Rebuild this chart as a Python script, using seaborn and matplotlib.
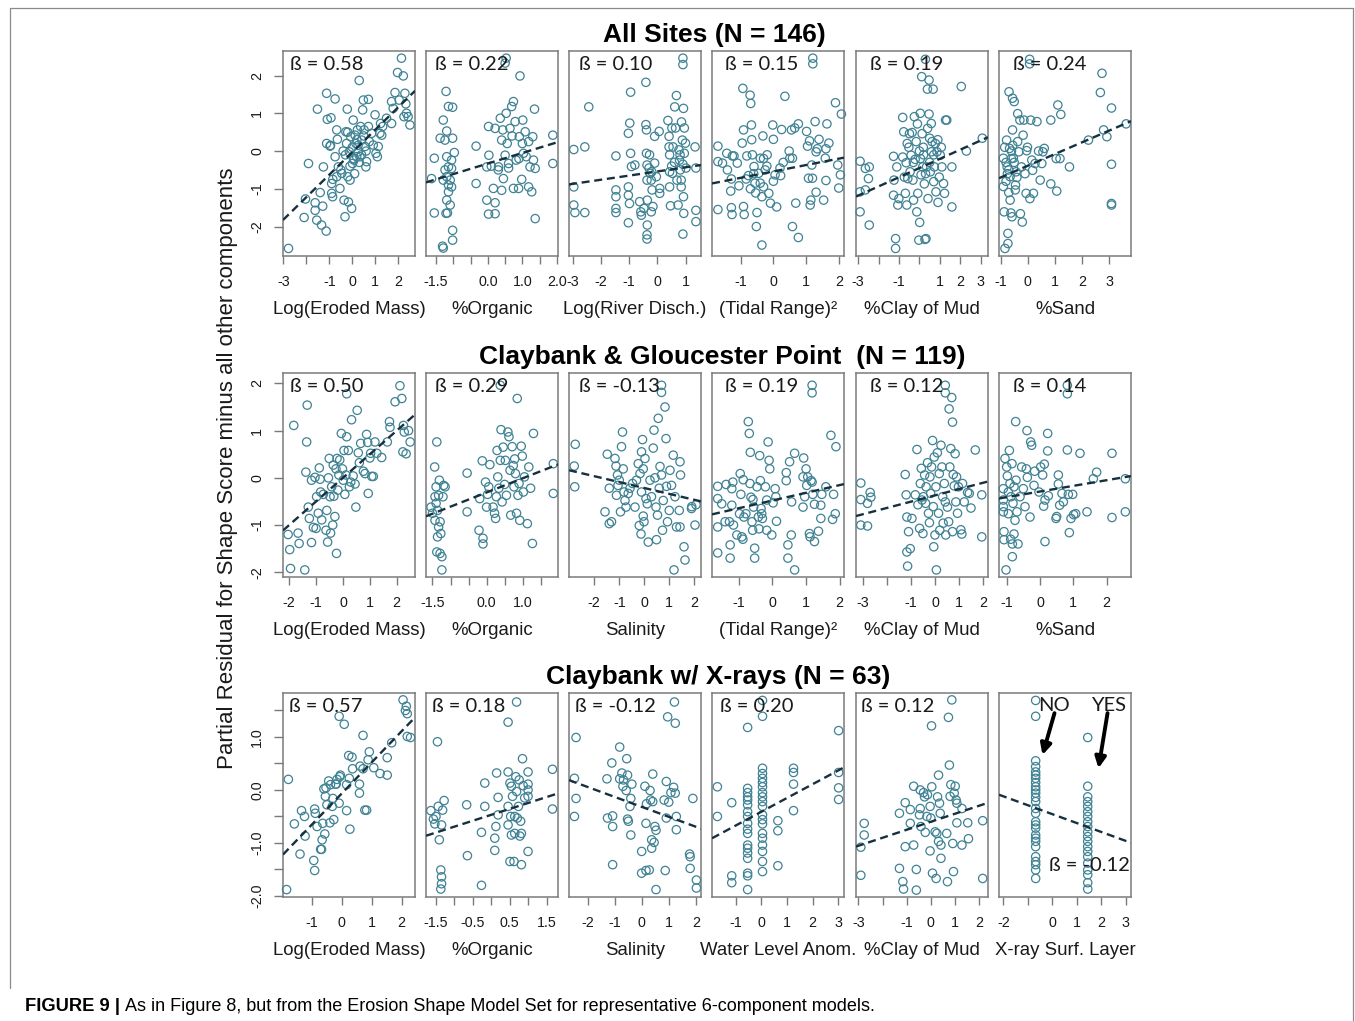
import matplotlib
matplotlib.use("Agg")
import matplotlib.pyplot as plt
from matplotlib.lines import Line2D
import seaborn as sns

sns.set_theme(style="white")
plt.rcParams['font.family'] = ['Liberation Sans', 'DejaVu Sans']

# ---------------- DATA ----------------
# Row 1: All Sites (N = 146)
all_eroded = [(-2.78,-2.58),(-2.10,-1.76),(-2.04,-1.27),(-1.91,-0.33),(-1.62,-1.37),(-1.62,-1.57),(-1.55,-1.83),(-1.52,1.11),(-1.34,-1.96),(-1.29,-1.46),(-1.26,-0.42),(-1.14,-2.12),(-1.12,1.53),(-1.09,0.84),(-0.93,0.88),(-1.12,0.20),(-0.97,0.13),(-0.90,-1.12),(-0.90,-0.86),(-0.86,-1.21),(-0.75,1.38),(-0.75,-0.15),(-0.68,0.56),(-0.68,-0.68),(-0.65,0.31),(-0.61,-0.42),(-0.54,-0.99),(-0.46,-0.59),(-0.36,-1.30),(-0.32,-1.74),(-0.28,0.51),(-0.22,1.11),(-0.20,-0.68),(-0.17,-1.35),(-0.13,-0.02),(-0.10,-0.77),(-0.07,0.38),(-0.03,-1.52),(0.01,-0.33),(0.04,0.82),(0.07,-0.24),(0.12,0.42),(0.16,0.20),(0.19,-0.15),(0.22,0.56),(0.26,-0.02),(0.30,1.87),(0.33,-0.15),(0.36,0.65),(0.41,0.29),(0.45,1.09),(0.48,1.35),(0.51,0.56),(0.55,0.12),(0.59,-0.42),(0.62,-0.28),(0.70,1.37),(0.70,0.65),(0.74,0.25),(0.84,0.47),(0.91,0.16),(0.99,0.96),(1.03,-0.06),(1.09,-0.15),(1.13,0.12),(1.20,0.47),(1.23,0.73),(1.28,0.42),(1.32,0.65),(1.49,0.87),(1.71,0.73),(1.71,1.31),(1.78,1.13),(1.86,1.55),(1.97,2.08),(2.04,1.35),(2.14,2.46),(2.22,1.99),(2.25,0.91),(2.29,1.53),(2.33,1.25),(2.36,1.00),(2.43,0.91),(2.51,0.69),(-0.25,0.20),(-0.30,-0.10),(0.00,0.10),(0.20,0.30),(-0.10,-0.40),(0.30,-0.30),(-0.50,-0.50),(0.10,-0.60),(0.50,0.40),(0.60,0.00),(-0.20,0.50),(0.40,-0.10),(0.25,0.15),(-0.40,0.00),(0.05,-0.20),(-0.85,-0.75),(-1.40,-1.10),(-0.95,0.15)]
all_organic = [(-1.55,-0.19),(-1.63,-0.73),(-1.55,-1.64),(-1.38,0.34),(-1.29,0.82),(-1.21,1.58),(-1.14,1.18),(-1.02,1.16),(-1.19,0.53),(-1.24,0.29),(-1.02,0.34),(-0.97,-0.04),(-1.19,-0.15),(-1.14,-0.42),(-1.24,-0.50),(-1.05,-0.46),(-1.19,-0.68),(-1.09,-0.77),(-1.29,-0.77),(-1.05,-0.95),(-1.14,-1.08),(-1.19,-1.30),(-1.09,-1.43),(-1.17,-1.64),(-1.21,-1.65),(-1.02,-2.10),(-1.02,-2.36),(-1.29,-2.57),(-1.31,-2.52),(-1.14,-0.90),(-1.05,-0.24),(-0.34,0.13),(-0.34,-0.86),(-0.03,-0.42),(0.02,0.65),(0.03,-0.11),(-0.03,-1.30),(0.02,-1.67),(0.21,-1.66),(0.21,-1.37),(0.16,-0.99),(0.21,0.60),(0.31,-0.42),(0.36,0.87),(0.40,0.29),(0.40,-1.04),(0.43,0.56),(0.45,-0.73),(0.50,-0.11),(0.53,1.00),(0.56,0.20),(0.60,-0.33),(0.64,0.60),(0.69,1.18),(0.74,1.31),(0.74,-0.99),(0.79,0.78),(0.82,-0.24),(0.89,-0.99),(0.91,0.38),(0.93,1.99),(0.98,-0.75),(1.01,0.82),(1.03,-0.06),(1.08,0.51),(1.11,-0.15),(1.18,-0.95),(1.18,0.25),(1.22,-0.42),(1.27,-1.08),(1.30,0.38),(1.32,-0.24),(1.35,1.11),(1.37,-1.79),(1.37,-0.46),(1.88,0.42),(1.88,-0.33),(0.53,2.46),(0.50,2.33),(0.70,0.40),(0.90,-0.20),(0.60,-0.45),(1.00,0.20),(0.30,-0.50),(0.10,-0.40)]
all_river = [(-2.96,0.04),(-2.96,-0.95),(-2.96,-1.43),(-2.92,-1.63),(-2.57,0.11),(-2.57,-1.63),(-2.43,1.17),(-1.47,-0.13),(-1.47,-1.03),(-1.47,-1.21),(-1.47,-1.52),(-1.47,-1.63),(-1.03,0.47),(-1.03,-0.95),(-1.03,-1.17),(-0.99,-1.39),(-0.98,0.74),(-0.95,1.56),(-0.95,-0.06),(-0.92,-0.41),(-1.03,-1.90),(-0.80,-0.37),(-0.63,-1.34),(-0.59,-1.61),(-0.57,-1.70),(-0.48,-1.52),(-0.41,1.82),(-0.41,0.70),(-0.39,0.56),(-0.39,-0.06),(-0.37,-0.37),(-0.37,-0.77),(-0.36,-1.30),(-0.36,-1.96),(-0.37,-2.22),(-0.37,-2.33),(-0.28,-0.10),(-0.26,-0.59),(-0.22,-0.77),(-0.19,-1.03),(-0.16,-1.47),(-0.22,-1.61),(-0.10,0.39),(-0.10,-0.32),(-0.04,-0.68),(0.06,0.52),(0.08,-0.99),(0.08,-1.12),(0.37,0.81),(0.41,0.39),(0.41,0.11),(0.43,-0.10),(0.43,-0.55),(0.43,-0.95),(0.46,-1.45),(0.51,0.61),(0.53,-0.59),(0.55,0.11),(0.61,1.17),(0.64,0.61),(0.67,1.47),(0.69,-0.77),(0.73,-1.43),(0.76,0.03),(0.78,-0.24),(0.81,-0.50),(0.84,-0.77),(0.84,-0.95),(0.85,0.77),(0.88,0.29),(0.90,2.46),(0.90,2.29),(0.90,-2.20),(0.92,1.13),(0.92,-1.21),(0.93,-1.65),(0.95,0.61),(0.95,-0.06),(0.99,0.21),(1.01,-0.45),(1.33,0.11),(1.36,-0.45),(1.36,-1.57),(1.36,-1.87),(-0.30,-0.45),(-0.20,-0.55),(0.50,-0.40),(0.60,-0.30),(0.80,-0.10),(0.90,-0.35)]
all_tidal = [(-1.69,0.13),(-1.69,-0.28),(-1.69,-1.55),(-1.55,-0.32),(-1.42,-0.06),(-1.40,-0.50),(-1.30,-1.06),(-1.28,-0.74),(-1.25,-0.13),(-1.20,-0.13),(-1.28,-1.50),(-1.26,-1.68),(-1.10,-0.32),(-1.05,-0.92),(-0.95,0.21),(-0.93,1.66),(-0.91,0.56),(-0.91,-1.47),(-0.89,-1.68),(-0.83,-0.74),(-0.81,-0.13),(-0.76,-0.65),(-0.71,1.48),(-0.69,1.26),(-0.67,0.69),(-0.66,0.30),(-0.64,-0.10),(-0.59,-0.41),(-0.56,-0.85),(-0.54,-1.11),(-0.52,-2.00),(-0.50,-1.63),(-0.45,-0.59),(-0.40,-0.19),(-0.35,-1.21),(-0.35,-2.49),(-0.32,0.40),(-0.30,-0.95),(-0.25,-0.50),(-0.19,-0.10),(-0.14,-1.12),(-0.09,-1.38),(-0.02,0.69),(0.00,0.31),(0.05,-0.63),(0.10,-1.48),(0.20,-0.45),(0.22,-0.65),(0.25,0.57),(0.35,1.45),(0.48,0.00),(0.50,-0.19),(0.55,0.56),(0.58,-0.19),(0.58,-2.00),(0.65,0.61),(0.68,-1.38),(0.76,0.72),(0.76,-2.29),(1.01,0.52),(1.04,0.13),(1.07,-0.72),(1.10,0.27),(1.12,-1.43),(1.14,-1.30),(1.17,-0.37),(1.19,-0.72),(1.20,2.46),(1.20,2.31),(1.27,0.78),(1.30,-0.02),(1.30,-1.09),(1.34,0.06),(1.39,0.31),(1.53,-1.30),(1.58,-0.19),(1.60,0.06),(1.60,-0.78),(1.63,0.72),(1.69,0.21),(1.89,1.28),(1.96,-0.37),(1.99,-0.98),(2.04,-0.63),(2.07,0.98),(-0.60,-0.60),(-0.40,-0.85),(-0.20,-0.40),(-0.70,-1.00),(0.00,-0.80),(-0.30,-0.20),(0.30,-0.30)]
all_clay = [(-2.91,-0.27),(-2.91,-1.08),(-2.91,-1.61),(-2.65,-0.46),(-2.65,-1.03),(-2.46,-0.42),(-2.50,-0.73),(-2.46,-1.96),(-1.27,-0.14),(-1.27,-1.17),(-1.25,-0.77),(-1.17,-2.32),(-1.17,-2.58),(-1.11,-0.42),(-1.06,-1.43),(-1.01,-1.26),(-0.82,0.89),(-0.82,-0.16),(-0.77,0.51),(-0.74,-0.69),(-0.69,-1.12),(-0.65,-0.31),(-0.62,-1.43),(-0.57,-0.73),(-0.52,0.10),(-0.49,0.46),(-0.46,-0.55),(-0.41,-0.11),(-0.36,0.49),(-0.32,-0.77),(-0.29,-1.30),(-0.25,0.91),(-0.21,-0.22),(-0.16,0.25),(-0.13,-1.61),(-0.10,0.72),(-0.08,-1.12),(-0.03,-2.36),(0.01,-1.89),(0.04,1.00),(0.05,-0.20),(0.08,-0.63),(0.11,1.97),(0.13,0.46),(0.16,-0.42),(0.19,0.10),(0.24,-0.87),(0.27,-2.34),(0.29,2.43),(0.32,-2.32),(0.35,-0.42),(0.39,1.64),(0.42,-1.26),(0.47,1.88),(0.47,0.98),(0.50,0.34),(0.53,-0.55),(0.58,0.73),(0.59,-0.02),(0.62,0.25),(0.67,1.64),(0.70,-0.81),(0.73,-0.42),(0.78,0.20),(0.81,-1.08),(0.86,-0.02),(0.91,-1.36),(0.97,-0.69),(1.02,-0.11),(1.07,0.10),(1.10,-0.42),(1.18,-0.86),(1.23,-1.12),(1.28,0.82),(1.34,0.82),(1.59,-0.42),(1.59,-1.48),(2.05,1.71),(2.30,0.00),(3.08,0.34),(0.20,-0.10),(0.50,-0.30),(-0.30,-0.30),(0.70,-0.10),(0.00,0.00),(0.40,0.60),(-0.60,0.20),(0.90,0.30),(0.30,-0.60)]
all_sand = [(-0.90,-0.19),(-0.90,-0.94),(-0.87,-1.61),(-0.84,-2.58),(-0.78,0.29),(-0.76,-0.42),(-0.73,-2.18),(-0.73,-2.45),(-0.69,1.57),(-0.67,0.07),(-0.65,-0.68),(-0.65,-1.30),(-0.62,-1.64),(-0.58,-1.74),(-0.56,1.40),(-0.56,0.56),(-0.53,-0.19),(-0.50,1.31),(-0.46,-1.03),(-0.43,-0.55),(-0.37,0.99),(-0.37,0.25),(-0.33,-0.02),(-0.29,0.82),(-0.27,-1.66),(-0.23,-0.42),(-0.20,-1.88),(-0.17,0.42),(-0.14,0.82),(-0.10,-0.60),(-0.06,-1.12),(-0.04,0.01),(-0.01,0.10),(0.08,-1.26),(0.11,0.82),(0.15,-0.24),(0.18,-0.51),(0.21,-1.12),(0.27,-0.33),(0.34,0.78),(0.40,0.00),(0.46,-0.77),(0.52,-0.33),(0.56,-0.02),(0.61,0.07),(0.85,0.82),(0.85,-0.87),(1.05,-0.20),(1.07,-1.06),(1.11,1.22),(1.19,-0.20),(1.22,0.97),(1.54,-0.42),(2.24,0.29),(2.68,1.55),(2.74,2.06),(2.80,0.56),(2.92,0.38),(3.09,1.14),(3.09,-0.35),(3.09,-1.39),(3.09,-1.43),(3.63,0.72),(0.07,2.43),(0.07,2.31),(-0.80,-0.30),(-0.70,-0.50),(-0.60,0.00),(-0.80,-0.80),(-0.50,-0.30),(-0.40,-0.70),(-0.70,-1.10),(-0.60,-0.20),(-0.85,0.10),(-0.45,-0.90),(-0.75,-0.60),(-0.55,0.15)]

# Row 2: Claybank & Gloucester Point (N = 119)
cg_eroded = [(-2.04,-1.20),(-1.98,-1.52),(-1.95,-1.92),(-1.83,1.11),(-1.67,-1.17),(-1.63,-1.39),(-1.42,-1.95),(-1.35,0.76),(-1.33,1.54),(-1.38,0.12),(-1.29,-0.62),(-1.25,-0.86),(-1.17,-1.37),(-1.17,-0.05),(-1.10,-1.05),(-1.04,0.01),(-1.00,-1.07),(-0.98,-0.40),(-0.92,-0.75),(-0.88,0.21),(-0.85,-0.03),(-0.83,-0.30),(-0.79,-0.89),(-0.73,-0.35),(-0.63,-1.11),(-0.60,-0.69),(-0.57,-1.36),(-0.54,0.00),(-0.51,0.41),(-0.48,-0.40),(-0.46,-1.17),(-0.42,-0.19),(-0.38,-1.00),(-0.36,0.27),(-0.34,-0.39),(-0.30,-0.82),(-0.26,0.19),(-0.24,-1.60),(-0.22,0.41),(-0.19,-0.26),(-0.15,0.06),(-0.12,0.38),(-0.06,0.94),(-0.02,0.19),(0.01,-0.05),(0.04,0.58),(0.07,-0.35),(0.11,0.06),(0.14,0.87),(0.20,0.58),(0.24,-0.19),(0.29,-0.09),(0.32,1.23),(0.38,0.04),(0.45,-0.13),(0.48,-0.62),(0.53,1.43),(0.57,0.53),(0.61,0.32),(0.66,0.73),(0.76,0.14),(0.82,0.09),(0.88,0.92),(0.92,0.75),(0.94,-0.33),(1.00,0.42),(1.03,0.52),(1.07,0.03),(1.13,0.03),(1.19,0.76),(1.26,0.52),(1.44,0.43),(1.65,0.76),(1.73,1.19),(1.75,1.07),(1.94,1.61),(2.12,1.95),(2.19,1.68),(2.25,1.11),(2.28,0.97),(2.23,0.55),(2.35,0.51),(2.44,1.00),(2.50,0.76),(0.14,1.78)]
cg_organic = [(-1.54,-0.62),(-1.50,-0.75),(-1.44,0.23),(-1.43,-0.40),(-1.43,-0.90),(-1.40,-0.19),(-1.40,-0.54),(-1.38,0.76),(-1.38,-1.57),(-1.36,-0.69),(-1.36,-1.25),(-1.33,-0.37),(-1.33,-1.04),(-1.31,-0.05),(-1.29,-1.60),(-1.29,-0.93),(-1.27,-1.18),(-1.24,-1.95),(-1.24,-1.67),(-1.21,-0.40),(-1.19,-0.16),(-1.15,-0.19),(-0.54,0.10),(-0.54,-0.72),(-0.21,-1.11),(-0.19,-0.44),(-0.12,0.36),(-0.10,-1.28),(-0.10,-1.40),(-0.03,-0.09),(0.00,-0.62),(0.03,-0.35),(0.06,-0.19),(0.09,0.28),(0.18,-0.62),(0.22,-0.75),(0.25,-0.86),(0.27,-0.40),(0.29,0.58),(0.31,0.02),(0.34,-0.22),(0.38,0.37),(0.40,1.02),(0.43,-0.51),(0.46,0.65),(0.50,-0.14),(0.52,0.37),(0.55,-0.37),(0.59,0.97),(0.62,0.87),(0.65,0.16),(0.67,-0.79),(0.71,0.66),(0.74,0.26),(0.76,-0.19),(0.78,0.40),(0.80,0.09),(0.83,-0.75),(0.85,1.68),(0.87,-0.37),(0.90,-0.12),(0.92,-0.90),(0.96,0.67),(0.99,0.46),(1.02,-0.30),(1.05,0.02),(1.13,-0.97),(1.17,0.23),(1.22,-0.22),(1.27,-1.39),(1.30,0.94),(1.85,0.30),(1.85,-0.33),(0.38,1.96)]
cg_salinity = [(-2.80,0.25),(-2.76,0.71),(-2.78,-0.19),(-1.57,-0.72),(-1.48,0.50),(-1.40,-0.22),(-1.40,-0.97),(-1.31,-0.93),(-1.17,0.41),(-1.13,0.25),(-1.11,-0.37),(-1.07,0.06),(-1.05,-0.16),(-1.00,-0.05),(-0.95,-0.72),(-0.91,0.66),(-0.87,0.97),(-0.84,0.19),(-0.81,-0.30),(-0.77,-0.48),(-0.73,-0.62),(-0.64,-0.33),(-0.57,-0.22),(-0.47,-0.12),(-0.37,-0.62),(-0.31,-0.05),(-0.24,0.30),(-0.20,-1.01),(-0.17,0.09),(-0.13,-1.19),(-0.11,0.55),(-0.11,-0.30),(-0.07,0.81),(-0.04,0.19),(-0.04,-0.81),(-0.01,-0.93),(0.03,0.41),(0.07,-0.44),(0.12,-0.55),(0.16,-1.36),(0.23,-0.05),(0.29,-0.40),(0.36,0.63),(0.39,1.01),(0.43,0.00),(0.47,-0.62),(0.49,-1.31),(0.53,-0.79),(0.56,1.26),(0.60,-0.22),(0.63,0.24),(0.69,0.06),(0.73,-1.11),(0.76,-0.48),(0.83,1.50),(0.87,0.83),(0.89,-0.18),(0.93,-0.93),(1.00,-0.69),(1.03,0.16),(1.09,-0.16),(1.16,0.48),(1.19,-1.95),(1.23,-0.40),(1.29,-1.04),(1.40,-0.69),(1.43,0.34),(1.45,0.06),(1.43,-1.04),(1.59,-1.46),(1.63,-1.74),(1.89,-0.65),(2.03,-1.00),(0.69,1.96),(0.69,1.81),(1.90,-0.61),(2.07,-0.57)]
cg_tidal = [(-1.63,-0.18),(-1.63,-0.44),(-1.63,-1.04),(-1.63,-1.59),(-1.51,-0.55),(-1.41,-0.93),(-1.38,-0.14),(-1.28,-0.93),(-1.26,-1.42),(-1.26,-1.70),(-1.21,-0.23),(-1.21,-0.58),(-1.18,-0.09),(-1.16,-1.00),(-1.06,-1.21),(-0.98,-0.76),(-0.96,0.09),(-0.94,-0.35),(-0.91,-1.25),(-0.88,-1.30),(-0.87,-0.04),(-0.85,-0.83),(-0.79,-0.76),(-0.72,1.19),(-0.69,0.94),(-0.67,-0.12),(-0.66,0.54),(-0.64,-0.41),(-0.61,-0.93),(-0.59,-1.11),(-0.58,-0.46),(-0.56,-0.62),(-0.53,-1.49),(-0.53,-1.70),(-0.46,-0.19),(-0.42,-0.83),(-0.40,-1.08),(-0.38,0.47),(-0.36,-0.06),(-0.34,-0.65),(-0.32,-0.76),(-0.30,-0.86),(-0.21,-0.19),(-0.17,-1.11),(-0.13,0.76),(-0.10,0.37),(-0.08,0.19),(-0.17,-0.47),(-0.02,-1.21),(0.02,-0.53),(0.08,-0.23),(0.10,-0.40),(0.12,-0.92),(0.41,0.11),(0.41,-0.06),(0.46,-1.42),(0.46,-1.70),(0.51,0.34),(0.56,-1.21),(0.57,-0.51),(0.66,0.52),(0.66,-1.95),(0.91,0.02),(0.91,-0.62),(0.93,0.42),(0.96,-0.40),(1.00,0.19),(1.02,-0.16),(1.05,0.02),(1.10,-1.18),(1.12,-1.25),(1.15,-0.06),(1.18,-0.09),(1.20,-0.35),(1.25,-1.35),(1.25,-0.56),(1.37,-1.13),(1.44,-0.58),(1.44,-0.86),(1.47,-0.35),(1.59,-0.19),(1.74,0.90),(1.79,-0.88),(1.82,-0.35),(1.87,-0.76),(1.89,0.66),(1.18,1.96),(1.18,1.80)]
cg_clay = [(-3.10,-0.11),(-3.10,-0.46),(-3.10,-1.00),(-2.82,-0.54),(-2.82,-1.02),(-2.71,-0.31),(-2.68,-0.41),(-1.25,0.07),(-1.21,-0.36),(-1.18,-0.83),(-1.18,-1.57),(-1.15,-1.87),(-1.11,-1.14),(-1.04,-1.50),(-0.97,-0.86),(-0.83,-0.36),(-0.76,0.60),(-0.72,-0.57),(-0.65,-1.07),(-0.62,-0.12),(-0.58,0.20),(-0.55,-0.47),(-0.51,-1.18),(-0.49,-0.40),(-0.44,0.06),(-0.40,-0.54),(-0.38,-0.19),(-0.32,0.32),(-0.28,-0.75),(-0.24,-0.95),(-0.22,0.02),(-0.19,-0.33),(-0.15,0.23),(-0.11,0.79),(-0.08,-0.61),(-0.06,-1.46),(-0.04,0.44),(-0.01,-1.21),(0.03,-0.19),(0.05,-1.95),(0.09,0.53),(0.14,-0.75),(0.17,0.09),(0.19,-1.11),(0.24,0.69),(0.28,0.23),(0.31,-0.40),(0.33,-0.96),(0.38,-0.12),(0.42,-0.51),(0.44,-1.21),(0.51,-0.62),(0.56,-0.93),(0.58,1.46),(0.61,0.23),(0.65,0.62),(0.69,1.70),(0.72,1.18),(0.72,-1.14),(0.75,0.07),(0.79,-0.17),(0.83,0.51),(0.86,-0.51),(0.89,0.02),(0.93,-0.75),(0.97,-0.19),(1.07,-1.10),(1.11,-1.19),(1.14,-0.12),(1.21,-0.51),(1.35,-0.31),(1.42,-0.33),(1.49,-0.64),(1.67,0.59),(1.94,-0.36),(1.94,-1.25),(0.42,1.96),(0.42,1.80)]
cg_sand = [(-1.10,-0.23),(-1.10,-0.47),(-1.10,-0.61),(-1.10,-0.72),(-1.08,-1.14),(-1.08,-1.31),(-1.05,0.41),(-1.02,-1.95),(-1.00,0.23),(-0.98,0.04),(-0.95,-0.30),(-0.95,-0.76),(-0.92,0.58),(-0.90,-0.12),(-0.88,-1.30),(-0.87,-0.40),(-0.84,0.30),(-0.83,-1.67),(-0.83,-1.40),(-0.81,-0.54),(-0.78,-0.19),(-0.78,-1.19),(-0.75,-0.90),(-0.73,1.19),(-0.72,-0.05),(-0.69,-0.72),(-0.66,-1.40),(-0.60,-0.40),(-0.55,0.23),(-0.50,-0.23),(-0.45,-0.61),(-0.41,0.19),(-0.39,1.00),(-0.38,0.01),(-0.30,-0.83),(-0.28,0.76),(-0.25,0.69),(-0.18,-0.16),(-0.16,0.14),(-0.03,-0.30),(0.02,0.23),(0.08,0.06),(0.11,-0.60),(0.13,0.29),(0.15,-0.47),(0.15,-1.35),(0.23,0.94),(0.23,0.57),(0.25,-0.38),(0.48,-0.86),(0.50,-0.82),(0.55,0.06),(0.55,-0.13),(0.59,-0.58),(0.66,-0.33),(0.70,-0.51),(0.82,0.59),(0.85,-0.35),(0.88,-1.16),(0.93,-0.86),(0.98,-0.35),(1.01,-0.78),(1.07,-0.76),(1.20,0.52),(1.41,-0.72),(1.60,-0.02),(1.70,0.12),(2.16,0.52),(2.16,-0.84),(2.56,-0.02),(2.56,-0.72),(0.82,1.96),(0.82,1.78)]

# Row 3: Claybank w/ X-rays (N = 63)
xr_eroded = [(-1.85,-1.88),(-1.79,0.20),(-1.59,-0.64),(-1.40,-1.21),(-1.35,-0.39),(-1.25,-0.50),(-1.23,-0.87),(-0.94,-1.33),(-0.91,-1.52),(-0.91,-0.36),(-0.89,-0.44),(-0.83,-0.69),(-0.71,-1.12),(-0.68,-1.12),(-0.66,-0.94),(-0.64,-0.63),(-0.60,0.02),(-0.57,-0.83),(-0.55,-0.12),(-0.53,0.04),(-0.50,-0.28),(-0.44,0.17),(-0.40,-0.62),(-0.38,0.10),(-0.32,-0.31),(-0.30,-0.16),(-0.27,-0.56),(-0.21,0.11),(-0.19,0.11),(-0.16,0.20),(-0.09,-0.25),(-0.07,0.25),(-0.05,0.28),(-0.09,1.39),(0.08,1.24),(0.16,0.10),(0.23,0.65),(0.16,-0.39),(0.25,0.22),(0.27,-0.74),(0.34,0.62),(0.36,0.40),(0.59,0.11),(0.59,-0.06),(0.61,0.45),(0.71,1.03),(0.71,0.40),(0.77,-0.38),(0.83,-0.38),(0.88,0.57),(0.92,0.72),(1.07,0.42),(1.28,0.31),(1.52,0.28),(1.52,0.61),(1.67,0.89),(2.05,1.70),(2.13,1.50),(2.16,1.58),(2.19,1.44),(2.19,1.01),(2.30,0.99)]
xr_organic = [(-1.63,-0.39),(-1.56,-0.55),(-1.52,-0.64),(-1.49,-0.50),(-1.45,0.91),(-1.43,-0.31),(-1.40,-0.94),(-1.36,-1.51),(-1.36,-1.87),(-1.34,-1.64),(-1.34,-1.77),(-1.34,-0.66),(-1.31,-0.38),(-1.27,-0.20),(-0.66,-0.28),(-0.64,-1.24),(-0.26,-1.80),(-0.26,-0.80),(-0.17,-0.31),(-0.17,0.13),(0.10,-0.91),(0.10,-1.14),(0.13,-0.69),(0.15,0.32),(0.19,-0.47),(0.19,-0.14),(0.46,1.28),(0.46,0.34),(0.46,-0.31),(0.46,-0.66),(0.51,0.13),(0.51,-1.35),(0.53,-0.50),(0.55,0.07),(0.55,-0.85),(0.58,-0.12),(0.62,-1.35),(0.64,-0.50),(0.64,-0.82),(0.67,0.25),(0.69,1.66),(0.69,-0.03),(0.71,-0.53),(0.74,-0.31),(0.76,0.19),(0.78,-0.87),(0.80,-0.59),(0.82,-1.41),(0.82,-0.82),(0.85,0.59),(0.87,0.08),(0.91,-0.15),(1.00,0.34),(1.00,0.11),(1.00,0.00),(1.00,-0.12),(1.00,-1.16),(1.66,0.39),(1.66,-0.36)]
xr_salinity = [(-2.49,0.22),(-2.43,0.99),(-2.43,-0.16),(-2.49,-0.50),(-1.29,0.21),(-1.27,-0.53),(-1.11,0.51),(-1.08,-0.49),(-1.08,-0.69),(-1.08,-1.41),(-0.82,0.81),(-0.82,0.21),(-0.74,0.32),(-0.70,0.07),(-0.68,0.19),(-0.58,-0.01),(-0.56,0.59),(-0.53,0.28),(-0.53,-0.55),(-0.50,-0.59),(-0.44,-0.31),(-0.41,-0.16),(-0.37,0.11),(-0.41,-0.85),(-0.01,-1.16),(-0.01,-1.57),(0.11,0.07),(0.15,-0.63),(0.15,-1.52),(0.17,-0.26),(0.27,-1.51),(0.30,-0.01),(0.32,-0.19),(0.36,-0.94),(0.36,-1.10),(0.40,0.30),(0.40,-0.22),(0.45,-0.99),(0.48,-0.69),(0.52,-0.76),(0.52,-1.88),(0.82,-0.19),(0.86,-1.52),(0.90,0.16),(0.90,-0.53),(0.95,1.38),(0.99,-0.23),(1.07,-0.05),(1.17,0.05),(1.20,1.66),(1.23,1.26),(1.23,-0.06),(1.27,-0.50),(1.27,-0.75),(1.76,-1.21),(1.78,-1.26),(1.78,-1.48),(1.88,-0.16),(2.01,-1.70),(2.01,-1.85)]
xr_water = [(-1.72,0.06),(-1.72,-0.50),(-1.16,-0.24),(-1.16,-1.62),(-1.16,-1.75),
            (-0.54,1.18),(-0.54,0.03),(-0.54,-0.05),(-0.54,-0.13),(-0.54,-0.19),(-0.54,-0.28),(-0.54,-0.41),(-0.54,-0.50),(-0.54,-0.63),(-0.54,-0.74),(-0.54,-0.82),(-0.54,-1.04),(-0.54,-1.10),(-0.54,-1.19),(-0.54,-1.29),(-0.54,-1.57),(-0.54,-1.62),(-0.54,-1.88),
            (0.04,1.69),(0.04,1.39),(0.04,0.41),(0.04,0.31),(0.04,0.22),(0.04,0.14),(0.04,0.06),(0.04,-0.05),(0.04,-0.13),(0.04,-0.22),(0.04,-0.31),(0.04,-0.47),(0.04,-0.56),(0.04,-0.64),(0.04,-0.82),(0.04,-0.91),(0.04,-1.04),(0.04,-1.16),(0.04,-1.35),(0.04,-1.54),
            (0.64,-0.58),(0.64,-0.77),(0.64,-1.43),(1.25,0.41),(1.25,0.33),(1.25,0.11),(1.25,-0.39),(3.01,1.12),(3.01,0.33),(3.01,0.04),(3.01,-0.18)]
xr_clay = [(-2.90,-1.08),(-2.90,-1.61),(-2.76,-0.63),(-2.76,-0.85),(-1.30,-0.44),(-1.30,-1.48),(-1.16,-1.73),(-1.13,-1.87),(-1.06,-0.24),(-1.06,-1.07),(-0.85,-0.37),(-0.85,-0.63),(-0.71,0.07),(-0.71,-1.04),(-0.60,-1.50),(-0.60,-1.89),(-0.47,-0.47),(-0.44,0.00),(-0.44,-0.35),(-0.41,-0.69),(-0.30,-0.05),(-0.26,-0.13),(-0.23,-0.80),(-0.16,-0.50),(-0.14,-0.09),(-0.03,-0.31),(-0.03,-1.15),(0.00,-0.53),(0.03,1.21),(0.04,0.06),(0.07,-1.57),(0.18,-0.79),(0.22,-1.67),(0.25,-0.82),(0.28,-0.13),(0.32,0.28),(0.32,-0.97),(0.36,-0.25),(0.39,-0.44),(0.42,-1.04),(0.42,-1.29),(0.66,-0.82),(0.69,-1.73),(0.73,1.37),(0.77,0.47),(0.80,-0.12),(0.83,0.10),(0.87,1.70),(0.91,-1.01),(0.94,-1.54),(0.97,-0.06),(1.01,0.07),(1.05,-0.19),(1.08,-0.62),(1.08,-0.25),(1.29,-0.35),(1.29,-1.04),(1.53,-0.62),(1.56,-0.92),(2.15,-0.58),(2.15,-1.67)]
xr_xray = [(-0.68,1.69),(-0.68,1.39),(-0.68,0.55),(-0.68,0.44),(-0.68,0.34),(-0.68,0.28),(-0.68,0.22),(-0.68,0.14),(-0.68,0.06),(-0.68,0.00),(-0.68,-0.06),(-0.68,-0.14),(-0.68,-0.22),(-0.68,-0.35),(-0.68,-0.44),(-0.68,-0.60),(-0.68,-0.66),(-0.68,-0.72),(-0.68,-0.85),(-0.68,-0.91),(-0.68,-0.97),(-0.68,-1.07),(-0.68,-1.26),(-0.68,-1.35),(-0.68,-1.41),(-0.68,-1.51),(-0.68,-1.67),
           (1.45,0.99),(1.45,0.07),(1.45,-0.13),(1.45,-0.22),(1.45,-0.31),(1.45,-0.41),(1.45,-0.50),(1.45,-0.60),(1.45,-0.69),(1.45,-0.79),(1.45,-0.88),(1.45,-0.97),(1.45,-1.07),(1.45,-1.16),(1.45,-1.26),(1.45,-1.38),(1.45,-1.51),(1.45,-1.60),(1.45,-1.75),(1.45,-1.87)]

row_titles = ["All Sites (N = 146)", "Claybank & Gloucester Point  (N = 119)", "Claybank w/ X-rays (N = 63)"]
row_data = [[all_eroded, all_organic, all_river, all_tidal, all_clay, all_sand],
            [cg_eroded, cg_organic, cg_salinity, cg_tidal, cg_clay, cg_sand],
            [xr_eroded, xr_organic, xr_salinity, xr_water, xr_clay, xr_xray]]
row_xlabels = [["Log(Eroded Mass)", "%Organic", "Log(River Disch.)", "(Tidal Range)\u00b2", "%Clay of Mud", "%Sand"],
               ["Log(Eroded Mass)", "%Organic", "Salinity", "(Tidal Range)\u00b2", "%Clay of Mud", "%Sand"],
               ["Log(Eroded Mass)", "%Organic", "Salinity", "Water Level Anom.", "%Clay of Mud", "X-ray Surf. Layer"]]
row_betas = [["0.58", "0.22", "0.10", "0.15", "0.19", "0.24"],
             ["0.50", "0.29", "-0.13", "0.19", "0.12", "0.14"],
             ["0.57", "0.18", "-0.12", "0.20", "0.12", "-0.12"]]
row_slopes = [[0.595, 0.28, 0.11, 0.17, 0.243, 0.31],
              [0.50, 0.30, -0.125, 0.163, 0.133, 0.12],
              [0.586, 0.224, -0.188, 0.26, 0.151, -0.168]]
row_intercepts = [[-0.03, -0.33, -0.54, -0.54, -0.45, -0.39],
                  [0.0, -0.31, -0.215, -0.48, -0.37, -0.29],
                  [-0.065, -0.47, -0.32, -0.41, -0.60, -0.456]]
row_xticks = [[[-3, -2, -1, 0, 1, 2], [-1.5, -1, -0.5, 0, 0.5, 1, 1.5, 2], [-3, -2, -1, 0, 1], [-1, 0, 1, 2], [-3, -2, -1, 0, 1, 2, 3], [-1, 0, 1, 2, 3]],
              [[-2, -1, 0, 1, 2], [-1.5, -1, -0.5, 0, 0.5, 1, 1.5], [-2, -1, 0, 1, 2], [-1, 0, 1, 2], [-3, -2, -1, 0, 1, 2], [-1, 0, 1, 2]],
              [[-1, 0, 1, 2], [-1.5, -1, -0.5, 0, 0.5, 1, 1.5], [-2, -1, 0, 1, 2], [-1, 0, 1, 2, 3], [-3, -2, -1, 0, 1, 2], [-2, -1, 0, 1, 2, 3]]]
row_xticklabels = [[["-3", "", "-1", "0", "1", "2"], ["-1.5", "", "", "0.0", "", "1.0", "", "2.0"], ["-3", "-2", "-1", "0", "1"], ["-1", "0", "1", "2"], ["-3", "", "-1", "", "1", "2", "3"], ["-1", "0", "1", "2", "3"]],
                   [["-2", "-1", "0", "1", "2"], ["-1.5", "", "", "0.0", "", "1.0", ""], ["-2", "-1", "0", "1", "2"], ["-1", "0", "1", "2"], ["-3", "", "-1", "0", "1", "2"], ["-1", "0", "1", "2"]],
                   [["-1", "0", "1", "2"], ["-1.5", "", "-0.5", "", "0.5", "", "1.5"], ["-2", "-1", "0", "1", "2"], ["-1", "0", "1", "2", "3"], ["-3", "", "-1", "0", "1", "2"], ["-2", "", "0", "1", "2", "3"]]]
row_xlims = [[(-3.02, 2.73), (-1.79, 2.03), (-3.13, 1.54), (-1.87, 2.15), (-3.11, 3.36), (-1.06, 3.81)],
             [(-2.23, 2.68), (-1.68, 1.98), (-3.01, 2.27), (-1.80, 2.13), (-3.30, 2.20), (-1.23, 2.73)],
             [(-1.97, 2.45), (-1.76, 1.81), (-2.69, 2.18), (-1.93, 3.22), (-3.10, 2.37), (-2.18, 3.22)]]
row_ylims = [(-2.78, 2.65), (-2.10, 2.22), (-2.02, 1.83)]
row_yticks = [[-2, -1, 0, 1, 2], [-2, -1, 0, 1, 2], [-2, -1.5, -1, -0.5, 0, 0.5, 1, 1.5]]
row_yticklabels = [["-2", "-1", "0", "1", "2"], ["-2", "-1", "0", "1", "2"], ["-2.0", "", "-1.0", "", "0.0", "", "1.0", ""]]

# ---------------- LAYOUT / STYLE ----------------
W, H = 1355, 1021
fig = plt.figure(figsize=(W / 100, H / 100), dpi=100)

PANEL_LEFT = [283, 426, 569, 712, 856, 999]
PANEL_W = 132
ROW_TOP = [51, 373, 693]
ROW_BOT = [256, 577, 897]
TITLE_POS = [(714, 35), (722, 357), (718, 677)]
BETA_X = [[0.05, 0.07, 0.076, 0.10, 0.106, 0.106],
          [0.05, 0.07, 0.076, 0.10, 0.105, 0.106],
          [0.045, 0.045, 0.045, 0.06, 0.035, None]]
PT_COL = "#3f8294"
LINE_COL = "#17303f"
FRAME_COL = "#7a7a7a"
TXT = "#1a1a1a"
BETA_FONT = ['Lato', 'DejaVu Sans']

for r in range(3):
    top, bot = ROW_TOP[r], ROW_BOT[r]
    h = bot - top
    for c in range(6):
        left = PANEL_LEFT[c]
        ax = fig.add_axes([left / W, 1 - bot / H, PANEL_W / W, h / H])
        pts = row_data[r][c]
        xs = [p[0] for p in pts]
        ys = [p[1] for p in pts]
        sns.scatterplot(x=xs, y=ys, ax=ax, marker="o", s=36, facecolor="none",
                        edgecolor=PT_COL, linewidth=0.9, zorder=3, clip_on=False)
        ax.set_xlim(*row_xlims[r][c])
        ax.set_ylim(*row_ylims[r])
        ax.axline((0, row_intercepts[r][c]), slope=row_slopes[r][c], color=LINE_COL,
                  lw=1.7, linestyle=(0, (3.4, 2.0)), zorder=4)
        for s in ax.spines.values():
            s.set_visible(True)
            s.set_color(FRAME_COL)
            s.set_linewidth(1.1)
        ax.set_xticks(row_xticks[r][c])
        ax.set_xticklabels(row_xticklabels[r][c])
        ax.tick_params(axis='x', direction='out', length=6, width=1.0, color=FRAME_COL,
                       pad=8, labelsize=10.3, labelcolor=TXT, bottom=True)
        if c == 0:
            ax.set_yticks(row_yticks[r])
            ax.set_yticklabels(row_yticklabels[r], rotation=90, va='center')
            ax.tick_params(axis='y', direction='out', length=6.5, width=1.0, color=FRAME_COL,
                           pad=7, labelsize=10.3, labelcolor=TXT, left=True)
        else:
            ax.set_yticks([])
        ax.set_xlabel("")
        ax.set_ylabel("")
        ax.grid(False)
        ax.text(0.5, -53.0 / h, row_xlabels[r][c], transform=ax.transAxes, ha='center',
                va='center', fontsize=13.4, color=TXT)
        bx = BETA_X[r][c]
        if bx is not None:
            ax.text(bx, 1 - 13.0 / h, "\u00df = " + row_betas[r][c], transform=ax.transAxes,
                    ha='left', va='center', fontsize=14.5, color=TXT, family=BETA_FONT, zorder=5)
        else:
            # X-ray panel: beta at lower right, NO / YES labels with arrows
            ax.text(1.53, -1.43, "\u00df = " + row_betas[r][c], ha='center', va='center',
                    fontsize=14.5, color=TXT, family=BETA_FONT, zorder=5)
            ax.text(0.09, 1.60, "NO", ha='center', va='center', fontsize=14.5, color=TXT,
                    family=BETA_FONT, zorder=5)
            ax.text(2.30, 1.60, "YES", ha='center', va='center', fontsize=14.5, color=TXT,
                    family=BETA_FONT, zorder=5)
            arrow = dict(arrowstyle='-|>', lw=2.8, color='black', mutation_scale=16,
                         shrinkA=0, shrinkB=0)
            ax.annotate("", xy=(-0.40, 0.66), xytext=(0.09, 1.45), arrowprops=arrow, zorder=6)
            ax.annotate("", xy=(1.89, 0.41), xytext=(2.26, 1.45), arrowprops=arrow, zorder=6)

    tx, ty = TITLE_POS[r]
    fig.text(tx / W, 1 - ty / H, row_titles[r], ha='center', va='center', fontsize=19,
             fontweight='bold', color='black')

fig.text(228 / W, 1 - 468 / H, "Partial Residual for Shape Score minus all other components",
         rotation=90, ha='center', va='center', fontsize=16, color=TXT)

# outer frame
for (x0, y0, x1, y1) in [(10, 8, 1353, 8), (10, 8, 10, 988), (1353, 8, 1353, 1021)]:
    fig.add_artist(Line2D([x0 / W, x1 / W], [1 - y0 / H, 1 - y1 / H], color="#8a8a8a",
                          lw=0.9, transform=fig.transFigure))

# caption
cap_y = 1 - 1006 / H
t1 = fig.text(25 / W, cap_y, "FIGURE 9 |", fontsize=13.2, fontweight='bold', va='center',
              color='black')
fig.canvas.draw()
bb = t1.get_window_extent()
fig.text((bb.x1 + 5) / W, cap_y,
         "As in Figure 8, but from the Erosion Shape Model Set for representative 6-component models.",
         fontsize=13.0, va='center', color='black')

fig.savefig("out.png", dpi=100)
